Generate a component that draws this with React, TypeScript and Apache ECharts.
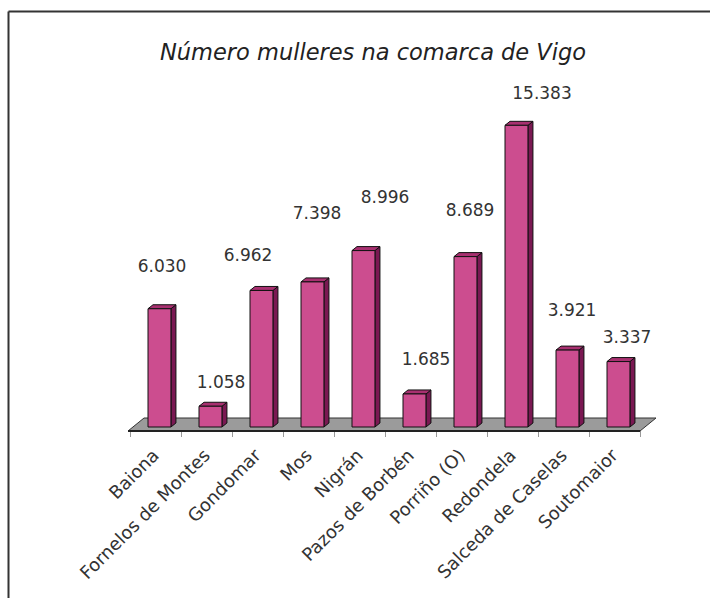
import React, { useEffect, useRef } from "react";
import * as echarts from "echarts";

const categories = [
  "Baiona",
  "Fornelos de Montes",
  "Gondomar",
  "Mos",
  "Nigrán",
  "Pazos de Borbén",
  "Porriño (O)",
  "Redondela",
  "Salceda de Caselas",
  "Soutomaior",
];
const values = [6030, 1058, 6962, 7398, 8996, 1685, 8689, 15383, 3921, 3337];
const titleText = "Número mulleres na comarca de Vigo";

// label placement (style): offsets relative to category centre / bar top
const labelDx = [6.5, 14.5, -9.5, 8.5, 25.5, 15.5, 8.5, 29.5, 8.5, 12.5];
const labelDy = [-43, -24, -35, -69, -54, -35, -47, -32, -40, -25];

const FONT = "DejaVu Sans";

function fmt(v: number): string {
  const th = Math.floor(v / 1000);
  const r = v % 1000;
  return th > 0 ? th + "." + String(r).padStart(3, "0") : String(r);
}

export default function App() {
  const ref = useRef<HTMLDivElement>(null);
  useEffect(() => {
    if (!ref.current) return;
    const chart = echarts.init(ref.current, undefined, { renderer: "svg" });
    const option: any = {
      animation: false,
      backgroundColor: "#ffffff",
      title: {
        text: titleText,
        left: 368,
        textAlign: "center",
        top: 35,
        textStyle: {
          fontStyle: "italic",
          fontWeight: "normal",
          fontSize: 22.5,
          fontFamily: FONT,
          color: "#222",
        },
      },
      graphic: [
        {
          type: "line",
          shape: { x1: 8.5, y1: 11.5, x2: 720, y2: 11.5 },
          style: { stroke: "#333", lineWidth: 2 },
          z: 100,
        },
        {
          type: "line",
          shape: { x1: 8.5, y1: 11.5, x2: 8.5, y2: 610 },
          style: { stroke: "#333", lineWidth: 2 },
          z: 100,
        },
      ],
      grid: { left: 130, right: 70, top: 78, bottom: 167 },
      xAxis: {
        type: "category",
        data: categories,
        boundaryGap: true,
        axisLine: { show: false },
        axisTick: { show: true, length: 6, lineStyle: { color: "#999" } },
        axisLabel: {
          interval: 0,
          rotate: 45,
          margin: 21,
          fontSize: 18,
          fontFamily: FONT,
          color: "#333",
        },
      },
      yAxis: {
        type: "value",
        min: 0,
        max: 18000,
        show: false,
        splitLine: { show: false },
      },
      series: [
        {
          type: "custom",
          data: [[0, 0]],
          encode: { x: 0, y: 1 },
          silent: true,
          renderItem: (params: any, api: any) => {
            const bw = api.size([1, 0])[0];
            const p0 = api.coord([0, 0]);
            const p1 = api.coord([categories.length - 1, 0]);
            const L = p0[0] - bw / 2 - 2;
            const R = p1[0] + bw / 2;
            const y = p0[1];
            const dx = 16;
            const dy = 13;
            return {
              type: "group",
              children: [
                {
                  type: "polygon",
                  shape: {
                    points: [
                      [L, y],
                      [R, y],
                      [R + dx, y - dy],
                      [L + dx, y - dy],
                    ],
                  },
                  style: { fill: "#9b9b9b", stroke: "#333", lineWidth: 1 },
                },
                {
                  type: "line",
                  shape: { x1: L, y1: y, x2: R, y2: y },
                  style: { stroke: "#222", lineWidth: 2 },
                },
              ],
            };
          },
        },
        {
          type: "custom",
          data: values.map((v, i) => [i, v]),
          encode: { x: 0, y: 1 },
          renderItem: (params: any, api: any) => {
            const i = api.value(0);
            const v = api.value(1);
            const base = api.coord([i, 0]);
            const top = api.coord([i, v]);
            const bw = api.size([1, 0])[0];
            const fw = bw * 0.45;
            const off = bw * 0.078;
            const sx = 5;
            const sy = 4;
            const L = base[0] - fw / 2 + off;
            const y0 = base[1] - 4;
            const y1 = top[1] - 4;
            const idx = params.dataIndex;
            return {
              type: "group",
              children: [
                {
                  type: "polygon",
                  shape: {
                    points: [
                      [L + fw, y1],
                      [L + fw + sx, y1 - sy],
                      [L + fw + sx, y0 - sy],
                      [L + fw, y0],
                    ],
                  },
                  style: { fill: "#7a1852", stroke: "#111", lineWidth: 1 },
                },
                {
                  type: "polygon",
                  shape: {
                    points: [
                      [L, y1],
                      [L + sx, y1 - sy],
                      [L + fw + sx, y1 - sy],
                      [L + fw, y1],
                    ],
                  },
                  style: { fill: "#a83070", stroke: "#111", lineWidth: 1 },
                },
                {
                  type: "rect",
                  shape: { x: L, y: y1, width: fw, height: y0 - y1 },
                  style: { fill: "#cc4d8f", stroke: "#111", lineWidth: 1 },
                },
                {
                  type: "text",
                  x: base[0] + labelDx[idx],
                  y: y1 + labelDy[idx],
                  style: {
                    text: fmt(v),
                    fontSize: 17,
                    fontFamily: FONT,
                    fill: "#333",
                    align: "center",
                    verticalAlign: "middle",
                  },
                },
              ],
            };
          },
        },
      ],
    };
    chart.setOption(option);
    return () => chart.dispose();
  }, []);
  return (
    <div
      ref={ref}
      style={{ position: "absolute", left: 0, top: 0, width: 710, height: 598 }}
    />
  );
}
